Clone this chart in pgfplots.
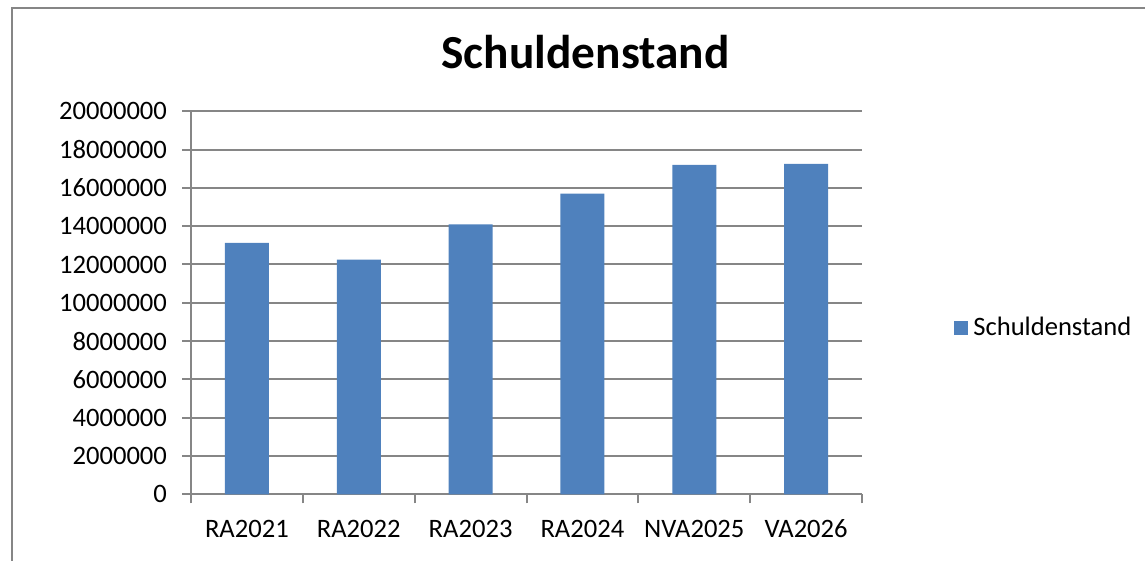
\documentclass[border=0pt]{standalone}
\usepackage{pgfplots}
\pgfplotsset{compat=1.18}
\usepackage{fontspec}
\setmainfont{Carlito}
\definecolor{barblue}{HTML}{4F81BD}
\definecolor{gridgrey}{HTML}{868686}
\begin{document}
\begin{tikzpicture}
\useasboundingbox (0,0) rectangle (572.5pt,280.5pt);
\draw[gridgrey, line width=1pt] (6pt,-5pt) -- (6pt,276.5pt) -- (580pt,276.5pt);
\node[anchor=base, font=\fontsize{23.7pt}{28pt}\selectfont\bfseries] at (292.75pt,246.3pt) {Schuldenstand};
\begin{axis}[
  at={(95.5pt,33.35pt)}, anchor=south west,
  scale only axis, width=335.5pt, height=191.5pt,
  ybar, bar width=22pt,
  xmin=-0.5, xmax=5.5, ymin=0, ymax=20000000,
  xtick={-0.5,0.5,1.5,2.5,3.5,4.5,5.5},
  xticklabels={},
  extra x ticks={0,1,2,3,4,5},
  extra x tick labels={RA2021,RA2022,RA2023,RA2024,NVA2025,VA2026},
  extra x tick style={major tick length=0pt, grid=none},
  ytick={0,2000000,4000000,6000000,8000000,10000000,12000000,14000000,16000000,18000000,20000000},
  scaled y ticks=false,
  yticklabel style={/pgf/number format/fixed, /pgf/number format/1000 sep={}, /pgf/number format/assume math mode=true, xshift=-4pt},
  xticklabel style={anchor=base, yshift=-21.6pt},
  tick label style={font=\fontsize{13.3pt}{15pt}\selectfont, text=black},
  axis lines*=left,
  axis line style={gridgrey, line width=1pt},
  tick align=outside,
  major tick length=4.5pt,
  tick style={gridgrey, line width=1pt},
  ymajorgrids, xmajorgrids=false,
  major grid style={gridgrey, line width=1pt},
  legend style={draw=none, fill=none, at={(rel axis cs:1.137,0.4342)}, anchor=west, inner sep=0pt, font=\fontsize{13.3pt}{15pt}\selectfont, nodes={inner sep=2.5pt}},
  legend cell align=left,
  legend image code/.code={\fill[barblue] (0pt,-3.5pt) rectangle (7pt,3.5pt);},
]
\addplot[fill=barblue, draw=none] coordinates {(0,13130000) (1,12260000) (2,14100000) (3,15700000) (4,17200000) (5,17250000)};
\addlegendentry{Schuldenstand}
\end{axis}
\end{tikzpicture}
\end{document}
